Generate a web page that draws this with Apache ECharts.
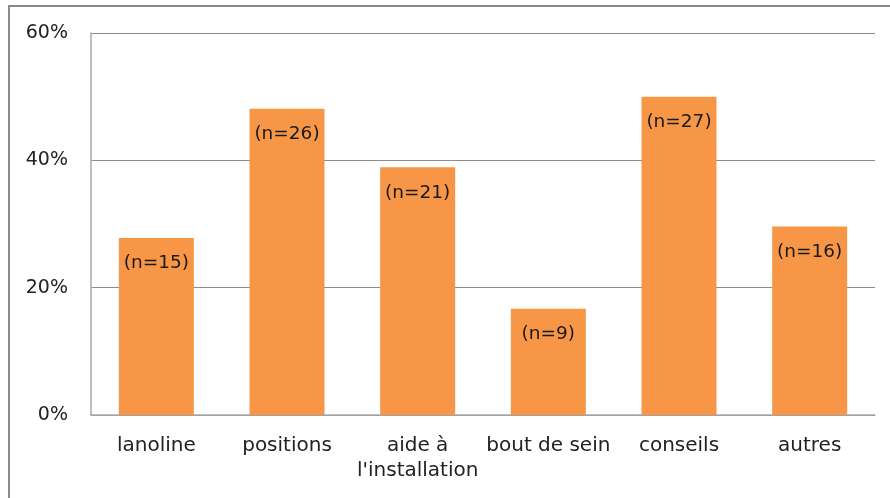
<!DOCTYPE html>
<html>
<head>
<meta charset="utf-8">
<script src="https://cdn.jsdelivr.net/npm/echarts@6/dist/echarts.min.js"></script>
<style>
  html, body { margin: 0; padding: 0; background: #fff; }
  #chart { width: 890px; height: 498px; }
</style>
</head>
<body>
<div id="chart"></div>
<script>
var categories = ['lanoline', 'positions', 'aide à\nl\'installation', 'bout de sein', 'conseils', 'autres'];
var percents = [27.8, 48.1, 38.9, 16.7, 50.0, 29.6];
var counts = [15, 26, 21, 9, 27, 16];
var yTicks = [0, 20, 40, 60];

var chart = echarts.init(document.getElementById('chart'));
var font = '"DejaVu Sans", sans-serif';

var option = {
  animation: false,
  graphic: [{
    type: 'rect',
    shape: { x: 9, y: 6, width: 900, height: 520 },
    style: { fill: 'none', stroke: '#8a8a8a', lineWidth: 2 },
    silent: true
  }],
  grid: { left: 91, right: 15, top: 33, bottom: 83 },
  xAxis: {
    type: 'category',
    data: categories,
    axisLine: { lineStyle: { color: '#aaaaaa', width: 1.5 } },
    axisTick: { show: false },
    axisLabel: {
      color: '#222', fontFamily: font, fontSize: 20,
      margin: 18, lineHeight: 25, interval: 0
    }
  },
  yAxis: {
    type: 'value',
    min: yTicks[0],
    max: yTicks[yTicks.length - 1],
    interval: 20,
    axisLine: { show: true, lineStyle: { color: '#aaaaaa', width: 1.5 } },
    axisTick: { show: false },
    axisLabel: { color: '#222', fontFamily: font, fontSize: 19, margin: 23, formatter: '{value}%' },
    splitLine: { lineStyle: { color: '#8c8c8c', width: 1 } }
  },
  series: [{
    type: 'bar',
    data: percents,
    barWidth: 75,
    itemStyle: { color: '#f79646' },
    label: {
      show: true,
      position: 'insideTop',
      distance: 16,
      color: '#1a1a1a',
      fontFamily: font,
      fontSize: 18.5,
      formatter: function (p) { return '(n=' + counts[p.dataIndex] + ')'; }
    }
  }]
};
chart.setOption(option);
</script>
</body>
</html>
